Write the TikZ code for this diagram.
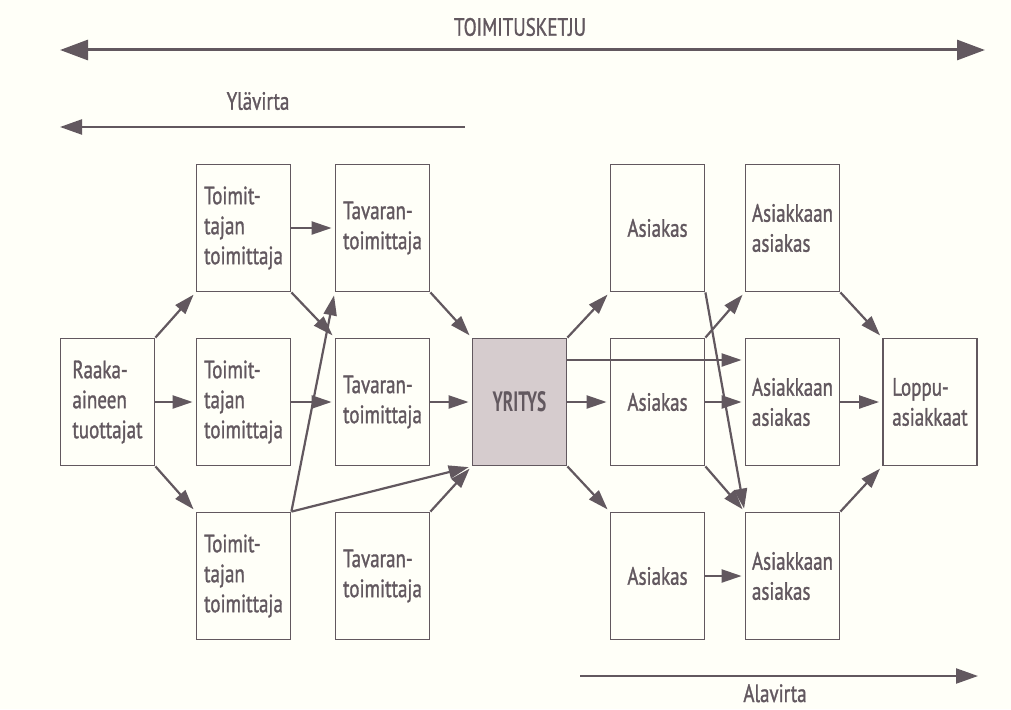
\documentclass[tikz,border=0pt]{standalone}
\usepackage{fontspec}
\setmainfont[FakeStretch=0.76,FakeBold=1.2]{PT Sans}
\newfontfamily\yrfont[FakeStretch=0.62]{PT Sans Bold}
\usetikzlibrary{arrows.meta}
\definecolor{bg}{RGB}{255,255,248}
\definecolor{ink}{RGB}{98,88,95}
\definecolor{fillg}{RGB}{214,204,206}
\begin{document}
\begin{tikzpicture}[x=1pt,y=-1pt,
  box/.style={draw=ink, line width=1.8pt, minimum width=94pt, minimum height=127pt,
    inner sep=0pt, align=left, text=ink, font=\fontsize{25}{30}\selectfont},
  arr/.style={draw=ink, line width=2.2pt, -{Triangle[length=20pt,width=13pt]}, shorten >=3pt},
  lbl/.style={text=ink, font=\fontsize{25}{30}\selectfont, inner sep=1pt}]
\fill[bg] (0,0) rectangle (1011,709);
\useasboundingbox (0,0) rectangle (1011,709);

% boxes
\node[box] (raaka) at (107.5,402) {Raaka-\\aineen\\tuottajat};
\node[box] (t1) at (243.5,228) {Toimit-\\tajan\\toimittaja};
\node[box] (t2) at (243.5,402) {Toimit-\\tajan\\toimittaja};
\node[box] (t3) at (243.5,576) {Toimit-\\tajan\\toimittaja};
\node[box] (v1) at (382.5,228) {Tavaran-\\toimittaja};
\node[box] (v2) at (382.5,402) {Tavaran-\\toimittaja};
\node[box] (v3) at (382.5,576) {Tavaran-\\toimittaja};
\node[box, fill=fillg, font=\yrfont\fontsize{28}{30}\selectfont] (yr) at (519.5,402) {YRITYS};
\node[box] (a1) at (657.5,228) {Asiakas};
\node[box] (a2) at (657.5,402) {Asiakas};
\node[box] (a3) at (657.5,576) {Asiakas};
\node[box] (b1) at (792.5,228) {Asiakkaan\\asiakas};
\node[box] (b2) at (792.5,402) {Asiakkaan\\asiakas};
\node[box] (b3) at (792.5,576) {Asiakkaan\\asiakas};
\node[box] (lp) at (930,402) {Loppu-\\asiakkaat};

% connectors
\draw[arr] (raaka.north east) -- (t1.south west);
\draw[arr] (raaka.east) -- (t2.west);
\draw[arr] (raaka.south east) -- (t3.north west);
\draw[arr] (t1.east) -- (v1.west);
\draw[arr] (t1.south east) -- (v2.north west);
\draw[arr] (t2.east) -- (v2.west);
\draw[arr] (t3.north east) -- (v1.south west);
\draw[arr] (t3.north east) -- (yr.south west);
\draw[arr] (v1.south east) -- (yr.north west);
\draw[arr] (v2.east) -- (yr.west);
\draw[arr] (v3.north east) -- (yr.south west);
\draw[arr] (yr.north east) -- (a1.south west);
\draw[arr] (yr.east) -- (a2.west);
\draw[arr] (yr.south east) -- (a3.north west);
\draw[arr] ([yshift=42pt]yr.east) -- ([yshift=42pt]b2.west);
\draw[arr] (a2.north east) -- (b1.south west);
\draw[arr] (a2.east) -- (b2.west);
\draw[arr] (a1.south east) -- (b3.north west);
\draw[arr] (a2.south east) -- (b3.north west);
\draw[arr] (a3.east) -- (b3.west);
\draw[arr] (b1.south east) -- (lp.north west);
\draw[arr] (b2.east) -- (lp.west);
\draw[arr] (b3.north east) -- (lp.south west);

% flow arrows
\coordinate (tl) at (60,50);
\coordinate (tr) at (985,50);
\draw[draw=ink, line width=3pt, {Triangle[length=28pt,width=20pt]}-{Triangle[length=28pt,width=20pt]}] (tl) -- (tr);
\node[lbl] (title) at (520,27) {TOIMITUSKETJU};

\coordinate (ul) at (60,127);
\coordinate (ur) at (465,127);
\draw[draw=ink, line width=2.2pt, {Triangle[length=22pt,width=15pt]}-] (ul) -- (ur);
\node[lbl] (yl) at (258,101) {Ylävirta};

\coordinate (dl) at (580,676);
\coordinate (dr) at (978,676);
\draw[draw=ink, line width=2.2pt, -{Triangle[length=22pt,width=15pt]}] (dl) -- (dr);
\node[lbl, anchor=base] (al) at (775,702) {Alavirta};
\end{tikzpicture}
\end{document}
